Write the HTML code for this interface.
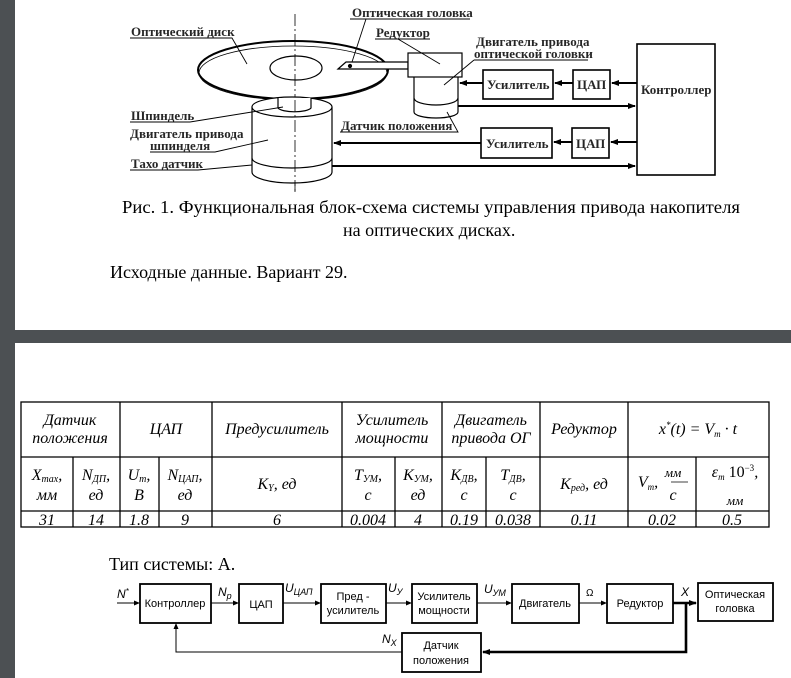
<!DOCTYPE html>
<html><head><meta charset="utf-8"><style>
html,body{margin:0;padding:0;background:#4c5053;}
svg{display:block;}
</style></head><body>
<svg width="791" height="678" viewBox="0 0 791 678" xmlns="http://www.w3.org/2000/svg" font-family="'Liberation Serif', serif">
<defs>
<marker id="ar" markerWidth="8" markerHeight="8" refX="7" refY="4" orient="auto" markerUnits="userSpaceOnUse"><path d="M0,1 L8,4 L0,7 z" fill="#000"/></marker>
<marker id="as" markerWidth="6" markerHeight="6" refX="5" refY="3" orient="auto" markerUnits="userSpaceOnUse"><path d="M0,0.5 L6,3 L0,5.5 z" fill="#000"/></marker>
</defs>
<rect x="0" y="0" width="791" height="678" fill="#4c5053"/>
<rect x="15" y="0" width="776" height="330" fill="#fff"/>
<rect x="15" y="343" width="776" height="335" fill="#fff"/>

<g stroke="#000" fill="none" stroke-width="1.2">
<ellipse cx="293" cy="70" rx="95" ry="29" fill="#fff" stroke-width="2"/>
<ellipse cx="293" cy="73" rx="94" ry="27" stroke-width="0.8"/>
<ellipse cx="296" cy="68" rx="26" ry="12"/>
<line x1="295" y1="14" x2="295" y2="192" stroke-dasharray="12,3,2,3" stroke-width="0.8"/>
<path d="M252,107 L252,172 A40,11 0 0 0 332,172 L332,107" fill="#fff"/>
<ellipse cx="292" cy="107" rx="40" ry="10" fill="#fff"/>
<path d="M252,158 A40,10 0 0 0 332,158"/>
<path d="M278,98 L278,108 A17,5 0 0 0 311,108 L311,98" fill="#fff"/>
<line x1="295" y1="100" x2="295" y2="192" stroke-dasharray="12,3,2,3" stroke-width="0.8"/>
<path d="M338,69 L346,62 L408,62 L408,69 Z" fill="#fff"/>
<circle cx="350" cy="66" r="1.5" fill="#000"/>
<path d="M414,77 L414,112 A22,6 0 0 0 458,112 L458,77" fill="#fff"/>
<path d="M414,98 A22,7 0 0 0 458,98"/>
<rect x="408" y="53" width="54" height="24" fill="#fff"/>
<rect x="483" y="70" width="70" height="29" stroke-width="1.6"/>
<rect x="573" y="70" width="37" height="29" stroke-width="1.6"/>
<rect x="637" y="44" width="78" height="131" stroke-width="1.6"/>
<rect x="481" y="128" width="71" height="30" stroke-width="1.6"/>
<rect x="572" y="128" width="37" height="30" stroke-width="1.6"/>
</g>
<g stroke="#000" stroke-width="2" fill="none">
<line x1="637" y1="83" x2="612" y2="83" marker-end="url(#ar)"/>
<line x1="573" y1="83" x2="555" y2="83" marker-end="url(#ar)"/>
<line x1="483" y1="83" x2="460" y2="83" marker-end="url(#ar)"/>
<line x1="458" y1="106" x2="635" y2="106" marker-end="url(#ar)"/>
<line x1="637" y1="142" x2="611" y2="142" marker-end="url(#ar)"/>
<line x1="572" y1="142" x2="554" y2="142" marker-end="url(#ar)"/>
<line x1="481" y1="143" x2="334" y2="143" marker-end="url(#ar)"/>
<line x1="332" y1="166" x2="635" y2="166" marker-end="url(#ar)"/>
</g>
<g stroke="#000" stroke-width="0.9" fill="none">
<path d="M130,38 L232,38 L247,64"/>
<path d="M130,122 L190,122 L283,107"/>
<path d="M150,152 L215,152 L268,140"/>
<path d="M130,170 L198,170 L252,165"/>
<path d="M350,19 L470,19"/><path d="M366,19 L352,62"/>
<path d="M375,39 L430,39"/><path d="M398,39 L440,64"/>
<path d="M474,60 L588,60"/><path d="M474,60 L444,85"/>
<path d="M340,132 L458,132 L447,112"/>
</g>
<g font-size="13" fill="#000" font-weight="bold" fill-opacity="0.85">
<text x="131" y="36">Оптический диск</text>
<text x="352" y="17">Оптическая головка</text>
<text x="376" y="37">Редуктор</text>
<text x="476" y="46">Двигатель привода</text>
<text x="474" y="58">оптической головки</text>
<text x="131" y="120">Шпиндель</text>
<text x="130" y="138">Двигатель привода</text>
<text x="150" y="150">шпинделя</text>
<text x="131" y="168">Тахо датчик</text>
<text x="341" y="130">Датчик положения</text>
<text x="487" y="89">Усилитель</text>
<text x="577" y="89">ЦАП</text>
<text x="641" y="94">Контроллер</text>
<text x="486" y="148">Усилитель</text>
<text x="576" y="148">ЦАП</text>
</g>
<g font-size="18" fill="#000">
<text x="122" y="213" textLength="618" lengthAdjust="spacingAndGlyphs">Рис. 1. Функциональная блок-схема системы управления привода накопителя</text>
<text x="343" y="236">на оптических дисках.</text>
<text x="110" y="278">Исходные данные. Вариант 29.</text>
<text x="109" y="570">Тип системы: А.</text>
</g>

<g stroke="#000" stroke-width="1.3" fill="none">
<rect x="21" y="402" width="748" height="125"/>
<line x1="21" y1="457" x2="769" y2="457"/>
<line x1="21" y1="511" x2="769" y2="511"/>
<line x1="120" y1="402" x2="120" y2="527"/>
<line x1="212" y1="402" x2="212" y2="527"/>
<line x1="342" y1="402" x2="342" y2="527"/>
<line x1="442" y1="402" x2="442" y2="527"/>
<line x1="540" y1="402" x2="540" y2="527"/>
<line x1="628" y1="402" x2="628" y2="527"/>
<line x1="73" y1="457" x2="73" y2="527"/>
<line x1="159" y1="457" x2="159" y2="527"/>
<line x1="395" y1="457" x2="395" y2="527"/>
<line x1="486" y1="457" x2="486" y2="527"/>
<line x1="696" y1="457" x2="696" y2="527"/>
</g>
<g font-size="16" font-style="italic" fill="#000" text-anchor="middle">
<text x="70" y="425">Датчик</text><text x="70" y="443">положения</text>
<text x="166" y="434">ЦАП</text>
<text x="277" y="434">Предусилитель</text>
<text x="392" y="425">Усилитель</text><text x="392" y="443">мощности</text>
<text x="491" y="425">Двигатель</text><text x="491" y="443">привода ОГ</text>
<text x="584" y="434">Редуктор</text>
<text x="698" y="434">x<tspan dy="-6" font-size="9">*</tspan><tspan dy="6">(t) = V</tspan><tspan dy="3" font-size="9">m</tspan><tspan dy="-3"> · t</tspan></text>
<text x="47" y="480">X<tspan font-size="10" dy="2">max</tspan><tspan dy="-2">,</tspan></text><text x="47" y="500">мм</text>
<text x="96" y="480">N<tspan font-size="10" dy="2">ДП</tspan><tspan dy="-2">,</tspan></text><text x="96" y="500">ед</text>
<text x="139" y="480">U<tspan font-size="10" dy="2">m</tspan><tspan dy="-2">,</tspan></text><text x="139" y="500">В</text>
<text x="185" y="480">N<tspan font-size="10" dy="2">ЦАП</tspan><tspan dy="-2">,</tspan></text><text x="185" y="500">ед</text>
<text x="277" y="489">K<tspan font-size="10" dy="2">Y</tspan><tspan dy="-2">, ед</tspan></text>
<text x="368" y="480">T<tspan font-size="10" dy="2">УМ</tspan><tspan dy="-2">,</tspan></text><text x="368" y="500">с</text>
<text x="418" y="480">K<tspan font-size="10" dy="2">УМ</tspan><tspan dy="-2">,</tspan></text><text x="418" y="500">ед</text>
<text x="464" y="480">K<tspan font-size="10" dy="2">ДВ</tspan><tspan dy="-2">,</tspan></text><text x="464" y="500">с</text>
<text x="513" y="480">T<tspan font-size="10" dy="2">ДВ</tspan><tspan dy="-2">,</tspan></text><text x="513" y="500">с</text>
<text x="584" y="489">K<tspan font-size="10" dy="2">ред</tspan><tspan dy="-2">, ед</tspan></text>
<text x="648" y="487">V<tspan font-size="9" dy="3">m</tspan><tspan dy="-3">,</tspan></text>
<text x="673" y="477" font-size="13">мм</text><text x="673" y="500">с</text>
<text x="735" y="477">ε<tspan font-size="9" dy="3">m</tspan><tspan dy="-3" font-style="normal">  10</tspan><tspan font-size="9" dy="-6" font-style="normal">−3</tspan><tspan dy="6">,</tspan></text>
<text x="735" y="505" font-size="13">мм</text>
<g font-size="16">
<text x="47" y="525">31</text><text x="96" y="525">14</text><text x="139" y="525">1.8</text><text x="185" y="525">9</text>
<text x="277" y="525">6</text><text x="368" y="525">0.004</text><text x="418" y="525">4</text><text x="464" y="525">0.19</text>
<text x="513" y="525">0.038</text><text x="584" y="525">0.11</text><text x="662" y="525">0.02</text><text x="732" y="525">0.5</text>
</g>
</g>
<line x1="671" y1="482" x2="688" y2="482" stroke="#000" stroke-width="0.8"/>

<g stroke="#000" stroke-width="1.8" fill="#fff">
<rect x="140" y="584" width="71" height="39"/>
<rect x="239" y="584" width="44" height="39"/>
<rect x="321" y="584" width="65" height="39"/>
<rect x="412" y="584" width="65" height="39"/>
<rect x="512" y="584" width="67" height="39"/>
<rect x="607" y="584" width="66" height="39"/>
<rect x="698" y="583" width="75" height="38"/>
<rect x="402" y="633" width="79" height="39"/>
</g>
<g stroke="#000" stroke-width="1" fill="none">
<line x1="117" y1="603" x2="139" y2="603" marker-end="url(#as)"/>
<line x1="211" y1="603" x2="238" y2="603" marker-end="url(#as)"/>
<line x1="283" y1="603" x2="320" y2="603" marker-end="url(#as)"/>
<line x1="386" y1="603" x2="411" y2="603" marker-end="url(#as)"/>
<line x1="477" y1="603" x2="511" y2="603" marker-end="url(#as)"/>
<line x1="579" y1="603" x2="606" y2="603" marker-end="url(#as)"/>
<polyline points="402,652 176,652 176,624" marker-end="url(#as)"/>
</g>
<g stroke="#000" stroke-width="2.6" fill="none">
<line x1="673" y1="603" x2="696" y2="603" marker-end="url(#ar)"/>
<polyline points="686,603 686,652 483,652" marker-end="url(#ar)"/>
</g>
<g font-family="'Liberation Sans', sans-serif" font-size="11" fill="#000" text-anchor="middle">
<text x="175" y="607">Контроллер</text>
<text x="261" y="608">ЦАП</text>
<text x="353" y="600">Пред -</text><text x="353" y="614">усилитель</text>
<text x="444" y="600">Усилитель</text><text x="444" y="614">мощности</text>
<text x="545" y="607">Двигатель</text>
<text x="640" y="607">Редуктор</text>
<text x="735" y="598">Оптическая</text><text x="735" y="612">головка</text>
<text x="441" y="649">Датчик</text><text x="441" y="664">положения</text>
</g>
<g font-family="'Liberation Sans', sans-serif" font-style="italic" font-size="12" fill="#000">
<text x="117" y="598">N<tspan font-size="8" dy="-4">*</tspan></text>
<text x="218" y="596">N<tspan font-size="9" dy="3">p</tspan></text>
<text x="285" y="592">U<tspan font-size="9" dy="3">ЦАП</tspan></text>
<text x="388" y="592">U<tspan font-size="9" dy="3">У</tspan></text>
<text x="484" y="593">U<tspan font-size="9" dy="3">УМ</tspan></text>
<text x="586" y="596" font-style="normal" font-size="10">Ω</text>
<text x="681" y="596">X</text>
<text x="382" y="643">N<tspan font-size="9" dy="3">X</tspan></text>
</g>
</svg>
</body></html>
